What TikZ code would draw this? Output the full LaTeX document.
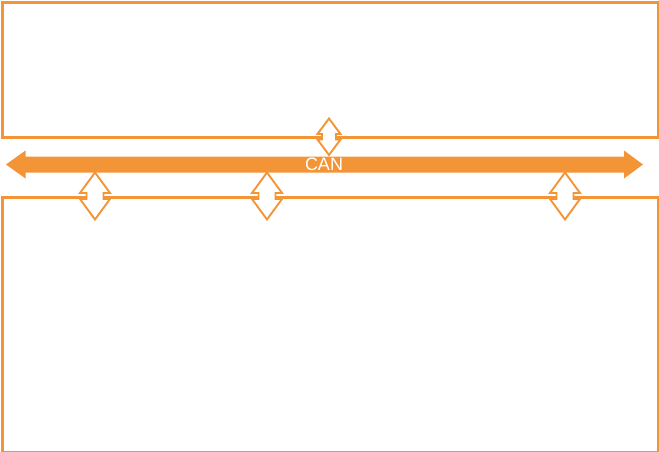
\documentclass[tikz,border=0pt]{standalone}
\usepackage{fontspec}
\setmainfont{Liberation Sans}
\definecolor{canorange}{HTML}{F39536}
\begin{document}
\begin{tikzpicture}[x=1pt,y=-1pt,
  boxline/.style={draw=canorange,line width=2.6pt},
  dblarrow/.style={draw=canorange,fill=white,line width=1.9pt,line join=miter}]
\useasboundingbox (0,0) rectangle (659,452);
% boxes
\node[boxline,minimum width=656pt,minimum height=135pt,inner sep=0pt,anchor=north west] (topbox) at (1.3,1.3) {};
\node[boxline,minimum width=656pt,minimum height=254.5pt,inner sep=0pt,anchor=north west] (botbox) at (1.3,196) {};
% CAN bus
\fill[canorange] (6,164.5) -- (25.5,150.5) -- (25.5,156.5) -- (624,156.5) -- (624,150.5) -- (643,164.5)
  -- (624,178.5) -- (624,172.5) -- (25.5,172.5) -- (25.5,178.5) -- cycle;
\node[text=white,font=\fontsize{18}{18}\selectfont,inner sep=0pt,anchor=base] (can) at (324,170.3) {CAN};
% double arrows
\newcommand{\dbl}[6]{% cx, y0, y1, hw, sw, hl
  \draw[dblarrow] (#1,#2) -- ({#1+#4},{#2+#6}) -- ({#1+#5},{#2+#6}) -- ({#1+#5},{#3-#6}) -- ({#1+#4},{#3-#6})
    -- (#1,#3) -- ({#1-#4},{#3-#6}) -- ({#1-#5},{#3-#6}) -- ({#1-#5},{#2+#6}) -- ({#1-#4},{#2+#6}) -- cycle;}
\dbl{329}{118.5}{155}{11.5}{7}{15.5}
\dbl{95}{172.5}{219.5}{15}{8.5}{20.5}
\dbl{267}{172.5}{219.5}{15}{8.5}{20.5}
\dbl{565}{172.5}{219.5}{15}{8.5}{20.5}
\end{tikzpicture}
\end{document}
